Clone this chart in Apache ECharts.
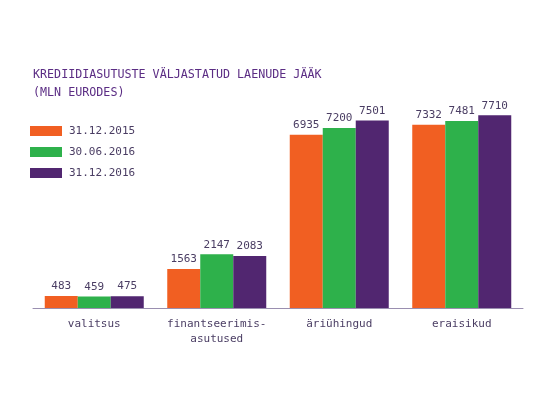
<!DOCTYPE html>
<html>
<head>
<meta charset="utf-8">
<script src="https://cdn.jsdelivr.net/npm/echarts@6/dist/echarts.min.js"></script>
<style>
  html, body { margin: 0; padding: 0; background: #fff; }
  #chart { width: 560px; height: 397px; }
</style>
</head>
<body>
<div id="chart"></div>
<script>
// andmed
var categories = ['valitsus', 'finantseerimis-\nasutused', 'äriühingud', 'eraisikud']
var seriesNames = ['31.12.2015', '30.06.2016', '31.12.2016']
var values2015 = [483, 1563, 6935, 7332]
var values2016a = [459, 2147, 7200, 7481]
var values2016b = [475, 2083, 7501, 7710]
var colors = ['#f15f22', '#2eb14b', '#512670']

var font = '"DejaVu Sans Mono", "Liberation Mono", monospace'
var textColor = '#4a3d63'

function makeSeries(name, data) {
  return {
    name: name,
    type: 'bar',
    data: data,
    barWidth: 33,
    barGap: '0%',
    label: {
      show: true,
      position: 'top',
      distance: 4,
      fontFamily: font,
      fontSize: 11,
      color: textColor
    }
  }
}

var chart = echarts.init(document.getElementById('chart'))
chart.setOption({
  backgroundColor: '#fff',
  animation: false,
  color: colors,
  title: {
    text: 'KREDIIDIASUTUSTE VÄLJASTATUD LAENUDE JÄÄK\n(MLN EURODES)',
    left: 33,
    top: 66,
    padding: 0,
    textStyle: {
      fontFamily: font,
      fontSize: 11.7,
      fontWeight: 'normal',
      color: '#5b2d84',
      lineHeight: 18
    }
  },
  legend: {
    orient: 'vertical',
    left: 30,
    top: 125,
    padding: 0,
    itemWidth: 32,
    itemHeight: 10,
    itemGap: 9,
    icon: 'rect',
    selectedMode: false,
    textStyle: {
      fontFamily: font,
      fontSize: 11,
      color: textColor,
      lineHeight: 12,
      padding: [0, 0, 0, 2]
    },
    data: seriesNames
  },
  grid: {
    left: 33,
    right: 37,
    top: 108,
    bottom: 89,
    containLabel: false
  },
  xAxis: {
    type: 'category',
    data: categories,
    axisLine: { lineStyle: { color: '#9a8fb0', width: 1 } },
    axisTick: { show: false },
    axisLabel: {
      interval: 0,
      fontFamily: font,
      fontSize: 11,
      color: textColor,
      margin: 9,
      lineHeight: 15
    }
  },
  yAxis: {
    type: 'value',
    min: 0,
    max: 8000,
    show: false,
    splitLine: { show: false }
  },
  series: [
    makeSeries(seriesNames[0], values2015),
    makeSeries(seriesNames[1], values2016a),
    makeSeries(seriesNames[2], values2016b)
  ]
})
</script>
</body>
</html>
